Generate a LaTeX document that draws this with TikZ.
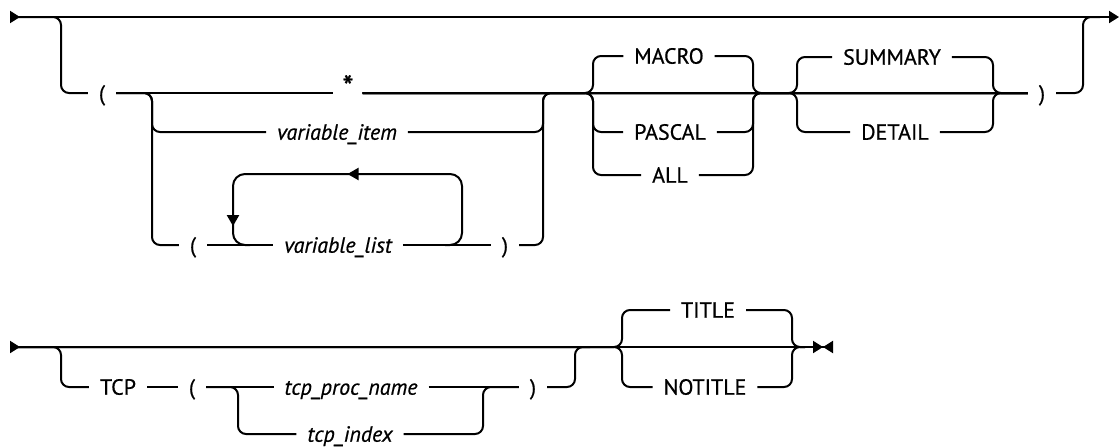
\documentclass[tikz,border=0pt]{standalone}
\usepackage{fontspec}
\setmainfont{PT Sans}[FakeBold=0.6]
\usetikzlibrary{arrows.meta,decorations.markings}

\newcommand{\rrfont}{\fontsize{11}{13}\selectfont}

\tikzset{
  rr/.style={line width=1pt, rounded corners=4pt},
  kw/.style={font=\rrfont, inner xsep=5pt, inner ysep=0pt, text height=7.7pt, text depth=0pt},
  var/.style={kw, font=\rrfont\itshape},
  loopline/.style={line width=1pt, rounded corners=6pt, postaction={decorate},
    decoration={markings,
      mark=at position 0.5 with {\arrow{Triangle[length=5.5pt,width=6pt]}},
      mark=at position 0.92 with {\arrow{Triangle[length=5.5pt,width=6pt]}}}}
}

\begin{document}
\begin{tikzpicture}[x=0.5pt, y=-0.5pt, line width=1pt]
\useasboundingbox (0,0) rectangle (1119,447);

% first syntax line
\coordinate (s1) at (10,17);
\coordinate (e1) at (1119,17);
\coordinate (e1b) at (1100,17);
\node[kw] (lp1) at (102,93) {(};
\node[kw, font=\fontsize{16}{16}\selectfont, text height=5pt, inner xsep=4pt] (star) at (348,93) {*};
\node[var] (vitem) at (337,132) {variable\_item};
\node[kw] (lp2) at (193,245) {(};
\node[var] (vlist) at (338,245) {variable\_list};
\node[kw] (rp2) at (505,245) {)};
\node[kw] (macro) at (669,56) {MACRO};
\node[kw] (pascal) at (670,132) {PASCAL};
\node[kw] (all) at (670,175) {ALL};
\node[kw] (summary) at (892,57) {SUMMARY};
\node[kw] (detail) at (895,132) {DETAIL};
\node[kw] (rp1) at (1042,93) {)};
\coordinate (loopA) at (445,245);
\coordinate (loopB) at (250,245);

\draw[{Triangle[length=5pt,width=6pt,reversed]}-{Triangle[length=5pt,width=6pt]}] (s1) -- (e1);
\draw[rr] (s1) -| (61,93) -- (lp1);
\draw[rr] (lp1) -- (star);
\draw[rr] (star) -- (rp1);
\draw[rr] (rp1) -| (1083,17) -- (e1b);

\draw[rr] (lp1) -| (152,132) -- (vitem);
\draw[rr] (vitem) -| (543,93) -- (rp1);
\draw[rr] (lp1) -| (152,245) -- (lp2);
\draw[rr] (lp2) -- (vlist);
\draw[rr] (vlist) -- (rp2);
\draw[rr] (rp2) -| (543,93) -- (rp1);
\draw[loopline] (loopA) -| (462,174) -| (233,245) -- (loopB);

\draw[rr] (star) -| (593,56) -- (macro);
\draw[rr] (star) -| (593,132) -- (pascal);
\draw[rr] (star) -| (593,175) -- (all);
\draw[rr] (macro) -| (753,93) -- (rp1);
\draw[rr] (pascal) -| (753,93) -- (rp1);
\draw[rr] (all) -| (753,93) -- (rp1);

\draw[rr] (star) -| (797,57) -- (summary);
\draw[rr] (star) -| (797,132) -- (detail);
\draw[rr] (summary) -| (993,93) -- (rp1);
\draw[rr] (detail) -| (993,93) -- (rp1);

% second syntax line
\coordinate (s2) at (10,347);
\coordinate (e2) at (833,347);
\coordinate (e2b) at (805,347);
\node[kw] (tcp) at (118,387) {TCP};
\node[kw] (lp3) at (192,387) {(};
\node[var] (tpname) at (351,387) {tcp\_proc\_name};
\node[var] (tindex) at (350,434) {tcp\_index};
\node[kw] (rp3) at (533,387) {)};
\node[kw] (title) at (708,310) {TITLE};
\node[kw] (notitle) at (705,387) {NOTITLE};

\draw[{Triangle[length=5pt,width=6pt,reversed]}-{Triangle[length=5pt,width=6pt,sep=0pt] Triangle[length=5pt,width=6pt,reversed]}] (s2) -- (e2);
\draw[rr] (s2) -| (61,387) -- (tcp);
\draw[rr] (tcp) -- (lp3);
\draw[rr] (lp3) -- (tpname);
\draw[rr] (lp3) -| (238,434) -- (tindex);
\draw[rr] (tpname) -- (rp3);
\draw[rr] (tindex) -| (483,387) -- (rp3);
\draw[rr] (rp3) -| (575,347) -- ++(15,0);
\draw[rr] (s2) -| (622,310) -- (title);
\draw[rr] (s2) -| (622,387) -- (notitle);
\draw[rr] (title) -| (792,347) -- (e2b);
\draw[rr] (notitle) -| (792,347) -- (e2b);
\end{tikzpicture}
\end{document}
